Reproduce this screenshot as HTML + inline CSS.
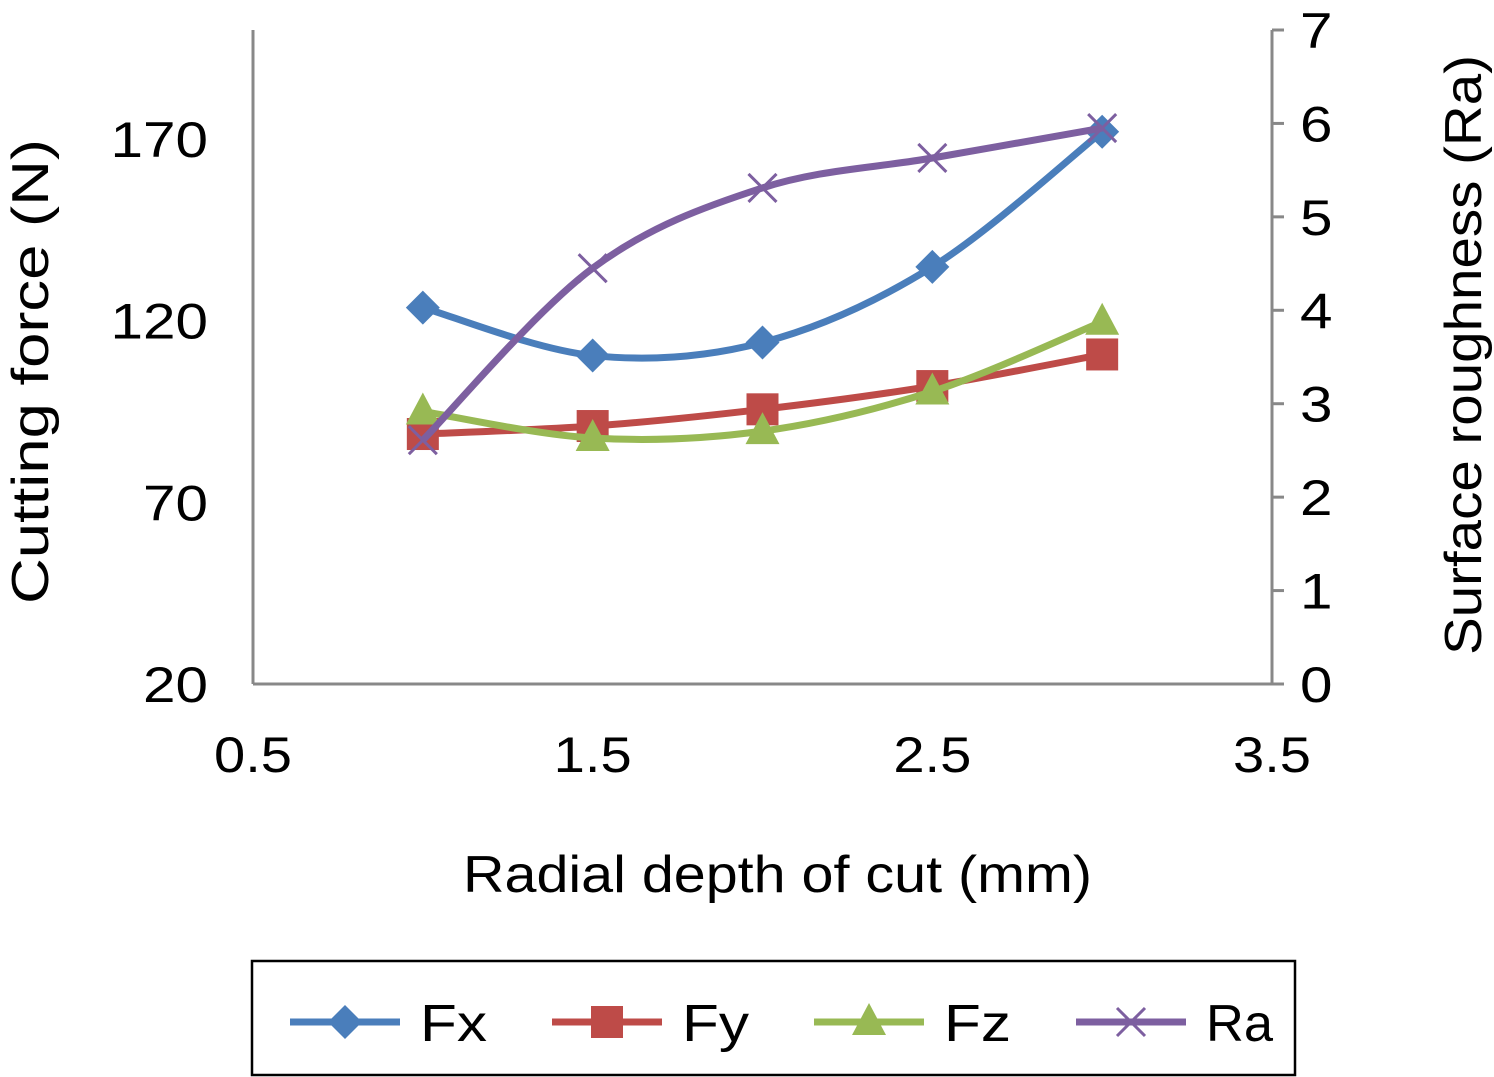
<!DOCTYPE html>
<html><head><meta charset="utf-8">
<style>
html,body{margin:0;padding:0;background:#fff;}
svg{display:block;font-family:"Liberation Sans",Arial,sans-serif;}
</style></head>
<body>
<svg id="chart" width="1494" height="1077" viewBox="0 0 1494 1077" xmlns="http://www.w3.org/2000/svg">
<g id="axes"></g>
<g id="series"></g>
<g id="legend"></g>
</svg>
<script>
const categories = [1, 1.5, 2, 2.5, 3];
const fxValues = [123.6, 110.4, 114, 134.8, 172];
const fyValues = [88.8, 91, 95.6, 102, 110.7];
const fzValues = [95, 87.7, 89.6, 100.5, 119.7];
const raValues = [2.61, 4.45, 5.31, 5.63, 5.95];
const xTicks = ["0.5", "1.5", "2.5", "3.5"];
const leftTicks = ["20", "70", "120", "170"];
const rightTicks = ["0", "1", "2", "3", "4", "5", "6", "7"];

const NS = "http://www.w3.org/2000/svg";
const X0 = 253, X1 = 1272, YB = 684, YT = 30;
const xs = v => X0 + (v - 0.5) / 3 * (X1 - X0);
const yl = v => YB - (v - 20) / 180 * (YB - YT);
const yr = v => YB - v / 7 * (YB - YT);
function mk(tag, attrs, parent, text) {
  const e = document.createElementNS(NS, tag);
  for (const k in attrs) e.setAttribute(k, attrs[k]);
  if (text !== undefined) e.textContent = text;
  parent.appendChild(e);
  return e;
}
const axes = document.getElementById('axes');
const series = document.getElementById('series');
const legend = document.getElementById('legend');

let e = mk('line', {x1: X0, y1: YT, x2: X0, y2: YB, stroke: '#888', 'stroke-width': 3}, axes);


e = mk('line', {x1: X1, y1: YT, x2: X1, y2: YB, stroke: '#888', 'stroke-width': 3}, axes);


e = mk('line', {x1: X0, y1: YB, x2: X1, y2: YB, stroke: '#888', 'stroke-width': 3}, axes);



const digitW = 32.5;
function tl(t) { return t.replace('.', '').length * digitW + (t.includes('.') ? 13 : 0); }
xTicks.forEach(t => {
  const el = mk('text', {x: xs(+t), y: 772, 'font-size': 50, 'text-anchor': 'middle', fill: '#000', textLength: tl(t), lengthAdjust: 'spacingAndGlyphs'}, axes, t);
  
  
});
leftTicks.forEach(t => {
  const el = mk('text', {x: 208 - tl(t), y: yl(+t) + 18, 'font-size': 50, fill: '#000', textLength: tl(t), lengthAdjust: 'spacingAndGlyphs'}, axes, t);
  
  
});
rightTicks.forEach(t => {
  const y = yr(+t);
  const tk = mk('line', {x1: X1, y1: y, x2: X1 + 12, y2: y, stroke: '#888', 'stroke-width': 3}, axes);
  
  
  const el = mk('text', {x: 1300, y: y + 18, 'font-size': 50, fill: '#000', textLength: digitW, lengthAdjust: 'spacingAndGlyphs'}, axes, t);
  
  
});
e = mk('text', {x: -232, y: 0, 'font-size': 52, textLength: 465, lengthAdjust: 'spacingAndGlyphs', transform: 'translate(48,372) rotate(-90)'}, axes, 'Cutting force (N)');


e = mk('text', {x: -300, y: 0, 'font-size': 52, textLength: 600, lengthAdjust: 'spacingAndGlyphs', transform: 'translate(1481,355) rotate(-90)'}, axes, 'Surface roughness (Ra)');


e = mk('text', {x: 463, y: 892, 'font-size': 52, textLength: 629, lengthAdjust: 'spacingAndGlyphs'}, axes, 'Radial depth of cut (mm)');



function smooth(pts) {
  let d = `M${pts[0][0]},${pts[0][1]}`;
  for (let i = 0; i < pts.length - 1; i++) {
    const p0 = pts[i - 1] || pts[i], p1 = pts[i], p2 = pts[i + 1], p3 = pts[i + 2] || p2;
    const t = 1 / 6;
    d += ` C${p1[0] + (p2[0] - p0[0]) * t},${p1[1] + (p2[1] - p0[1]) * t} ${p2[0] - (p3[0] - p1[0]) * t},${p2[1] - (p3[1] - p1[1]) * t} ${p2[0]},${p2[1]}`;
  }
  return d;
}
function marker(g, type, x, y, color) {
  let m;
  if (type === 'diamond') m = mk('polygon', {points: `${x},${y-17} ${x+17},${y} ${x},${y+17} ${x-17},${y}`, fill: color}, g);
  else if (type === 'square') m = mk('rect', {x: x - 16, y: y - 16, width: 32, height: 32, fill: color}, g);
  else if (type === 'triangle') m = mk('polygon', {points: `${x},${y-19} ${x+17},${y+13} ${x-17},${y+13}`, fill: color}, g);
  else m = mk('path', {d: `M${x-14},${y-14}L${x+14},${y+14}M${x+14},${y-14}L${x-14},${y+14}`, stroke: color, 'stroke-width': 3}, g);
  return m;
}
const defs = [
  {name: 'Fx', vals: fxValues, scale: yl, color: '#4a7ebb', mk: 'diamond'},
  {name: 'Fy', vals: fyValues, scale: yl, color: '#be4b48', mk: 'square'},
  {name: 'Fz', vals: fzValues, scale: yl, color: '#98b954', mk: 'triangle'},
  {name: 'Ra', vals: raValues, scale: yr, color: '#7d5fa0', mk: 'x'}
];
defs.forEach((s, si) => {
  const g = mk('g', {}, series);
  
  
  const pts = categories.map((c, i) => [xs(c), s.scale(s.vals[i])]);
  const ln = mk('path', {d: smooth(pts), fill: 'none', stroke: s.color, 'stroke-width': 7}, g);
  
  
  pts.forEach(p => {
    const m = marker(g, s.mk, p[0], p[1], s.color);
    
    
  });
  const lx = 290 + si * 262, ly = 1022;
  const lg = mk('g', {}, legend);
  
  
  mk('line', {x1: lx, y1: ly, x2: lx + 110, y2: ly, stroke: s.color, 'stroke-width': 7}, lg);
  marker(lg, s.mk, lx + 55, ly, s.color);
  mk('text', {x: lx + 130, y: ly + 19, 'font-size': 52, fill: '#000', textLength: 67, lengthAdjust: 'spacingAndGlyphs'}, lg, s.name);
});
e = mk('rect', {x: 252, y: 961, width: 1043, height: 114, fill: 'none', stroke: '#000', 'stroke-width': 2.5}, legend);


</script>
</body></html>
